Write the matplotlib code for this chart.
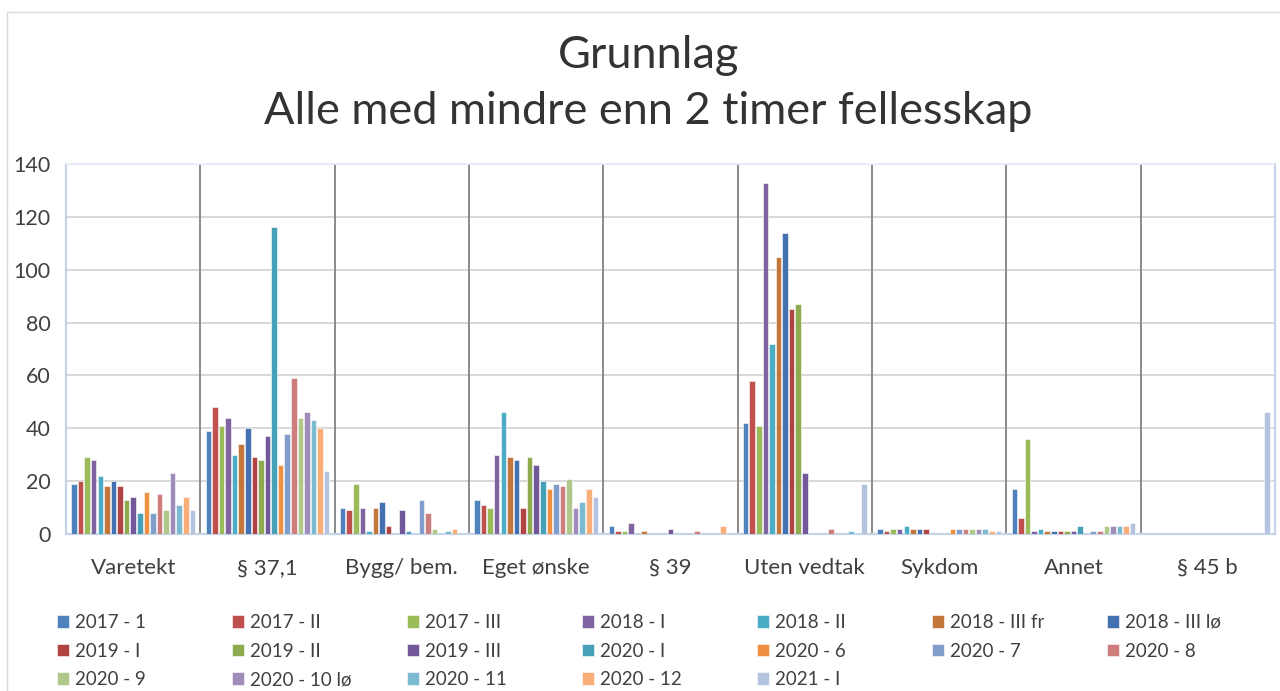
import numpy as np
import matplotlib
matplotlib.use("Agg")
import matplotlib.pyplot as plt
from matplotlib.patches import Rectangle

plt.rcParams['font.family'] = ['Lato', 'DejaVu Sans']

categories = ["Varetekt", "§ 37,1", "Bygg/ bem.", "Eget ønske", "§ 39",
              "Uten vedtak", "Sykdom", "Annet", "§ 45 b"]

series_names = ["2017 - 1", "2017 - II", "2017 - III", "2018 - I", "2018 - II",
                "2018 - III fr", "2018 - III lø", "2019 - I", "2019 - II", "2019 - III",
                "2020 - I", "2020 - 6", "2020 - 7", "2020 - 8", "2020 - 9",
                "2020 - 10 lø", "2020 - 11", "2020 - 12", "2021 - I"]

colors = ["#4F81BD", "#C0504D", "#9BBB59", "#8064A2", "#4BACC6",
          "#C4773A", "#4472B0", "#B04442", "#8EAA4E", "#72589A",
          "#45A0B8", "#EE8F42", "#7F9ECB", "#CD7D7B", "#AFC88A",
          "#9F8CBB", "#7BBAD1", "#F9AE79", "#B4C3DE"]

# one list per category, values in series order
varetekt    = [19, 20, 29, 28, 22, 18, 20, 18, 13, 14, 8, 16, 8, 15, 9, 23, 11, 14, 9]
p37_1       = [39, 48, 41, 44, 30, 34, 40, 29, 28, 37, 116, 26, 38, 59, 44, 46, 43, 40, 24]
bygg_bem    = [10, 9, 19, 10, 1, 10, 12, 3, 0, 9, 1, 0, 13, 8, 2, 0, 1, 2, 0]
eget_onske  = [13, 11, 10, 30, 46, 29, 28, 10, 29, 26, 20, 17, 19, 18, 21, 10, 12, 17, 14]
p39         = [3, 1, 1, 4, 0, 1, 0, 0, 0, 2, 0, 0, 0, 1, 0, 0, 0, 3, 0]
uten_vedtak = [42, 58, 41, 133, 72, 105, 114, 85, 87, 23, 0, 0, 0, 2, 0, 0, 1, 0, 19]
sykdom      = [2, 1, 2, 2, 3, 2, 2, 2, 0, 0, 0, 2, 2, 2, 2, 2, 2, 1, 1]
annet       = [17, 6, 36, 1, 2, 1, 1, 1, 1, 1, 3, 0, 1, 1, 3, 3, 3, 3, 4]
p45b        = [0, 0, 0, 0, 0, 0, 0, 0, 0, 0, 0, 0, 0, 0, 0, 0, 0, 0, 46]

values = np.array([varetekt, p37_1, bygg_bem, eget_onske, p39,
                   uten_vedtak, sykdom, annet, p45b]).T

W, H = 1280, 691
fig = plt.figure(figsize=(W / 100, H / 100), dpi=100)
ax = fig.add_axes([66 / W, 1 - 534 / H, (1275 - 66) / W, (534 - 164) / H])

txt = "#404040"
x = np.arange(len(categories))
slot = 0.049
n = len(series_names)
bars = []
for j in range(n):
    b = ax.bar(x + (j - (n - 1) / 2) * slot, values[j], width=0.041,
               color=colors[j], edgecolor="white", linewidth=0.4,
               label=series_names[j], zorder=3)
    bars.append(b)

ax.set_xlim(-0.5, len(categories) - 0.5)
ax.set_ylim(0, 140)
ax.set_yticks(np.arange(0, 141, 20))
ax.yaxis.grid(True, color="#d6d6d6", linewidth=1.3, zorder=0)
ax.set_axisbelow(True)
for i in range(1, len(categories)):
    ax.axvline(i - 0.5, color="#8a8a8a", linewidth=1.4, zorder=2)

ax.set_xticks(x)
ax.set_xticklabels(categories, fontsize=16, color=txt)
ax.tick_params(axis="x", length=0, pad=17)
ax.tick_params(axis="y", length=0, pad=11, labelsize=15.5, labelcolor=txt)

for side in ["left", "right", "bottom"]:
    ax.spines[side].set_color("#c3d3e8")
    ax.spines[side].set_linewidth(1.6)
ax.spines["top"].set_color("#e4ecf6")
ax.spines["top"].set_linewidth(1.2)

fig.text(648 / W, 1 - 55 / H, "Grunnlag", ha="center", va="center",
         fontsize=32.5, color="#333333")
fig.text(648 / W, 1 - 112 / H, "Alle med mindre enn 2 timer fellesskap",
         ha="center", va="center", fontsize=32.5, color="#333333")

# outer chart frame
fig.patches.append(Rectangle((7 / W, -0.1), 1.2, 1 - 12 / H + 0.1,
                             transform=fig.transFigure, fill=False,
                             edgecolor="#d9d9d9", linewidth=1))

# legend: 7 columns, filled row by row
ncols = 7
for c in range(ncols):
    idx = list(range(c, n, ncols))
    fig.legend([bars[k] for k in idx], [series_names[k] for k in idx],
               loc="upper left", bbox_to_anchor=((57 + 175 * c) / W, 1 - 614 / H),
               frameon=False, fontsize=13.5, handlelength=0.65, handleheight=0.65,
               handletextpad=0.3, labelspacing=0.62, borderpad=0, borderaxespad=0,
               labelcolor=txt)

fig.savefig("out.png", dpi=100)
